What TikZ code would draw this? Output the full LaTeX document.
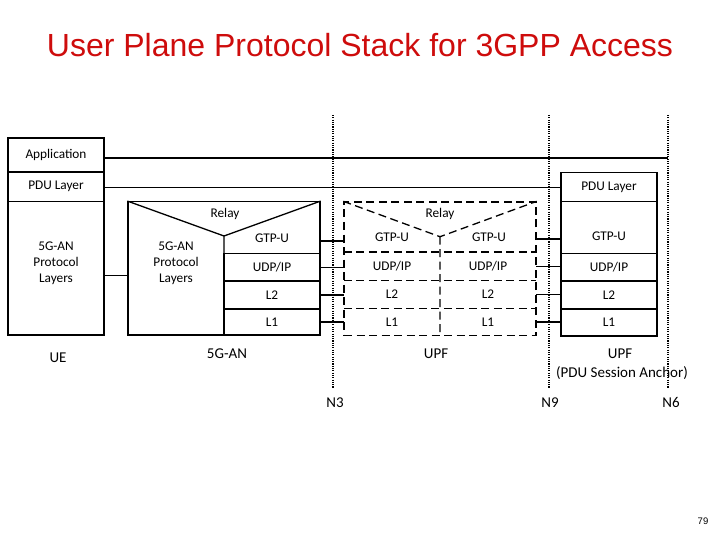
\documentclass[tikz,border=0pt]{standalone}
\usepackage{fontspec}
\setmainfont{Carlito}[Numbers=Lining]
\newfontfamily\slidefont{Liberation Sans}
\usepackage{tikz}
\usetikzlibrary{positioning}
\definecolor{TitleRed}{RGB}{206,12,12}
\newcommand{\dgfont}{\fontsize{13.3}{16}\selectfont}
\newcommand{\tagfont}{\fontsize{15}{18}\selectfont}

\begin{document}
\begin{tikzpicture}[x=1pt,y=-1pt,
    every node/.style={inner sep=0pt,align=center,font=\dgfont},
    cell/.style={draw,line width=1.3pt,minimum width=96pt},
    tag/.style={font=\tagfont,anchor=base},
    link/.style={line width=1.1pt},
    dashbox/.style={line width=1.3pt,dash pattern=on 8pt off 4.5pt},
    iface/.style={line width=1.1pt,dash pattern=on 1.1pt off 1.2pt}]
  \useasboundingbox (0,0) rectangle (720,540);
  \node[anchor=base,font=\slidefont\fontsize{32}{36}\selectfont,text=TitleRed] (title) at (360,57) {User Plane Protocol Stack for 3GPP Access};

  % UE
  \node[cell,minimum height=34pt] (ueApp) at (56,155) {Application};
  \node[cell,minimum height=29.5pt] (uePdu) at (56,186.75) {PDU Layer};
  \node[cell,minimum height=133.5pt] (ueAn) at (56,268.25) {};
  \node (ueAnT) at (56,263) {5G-AN\\Protocol\\Layers};
  \node[tag] (ueLab) at (58,362) {UE};

  % 5G-AN
  \node[cell,minimum width=192pt,minimum height=133.4pt] (an) at (224,268.4) {};
  \coordinate (anV) at (224,236);
  \draw[line width=1.3pt] (an.north west) -- (anV) -- (an.north east) (anV) -- (an.south);
  \node (anRelay) at (225,213.5) {Relay};
  \node (anProto) at (176,263) {5G-AN\\Protocol\\Layers};
  \node (anGtp) at (272,238) {GTP-U};
  \node[cell,minimum height=27.7pt] (anUdp) at (272,267.15) {UDP/IP};
  \node[cell,minimum height=28pt] (anL2) at (272,295) {L2};
  \node[cell,minimum height=26pt] (anL1) at (272,322) {L1};
  \node[tag] (anLab) at (227,358) {5G-AN};

  % UPF (relay)
  \node[draw,dashbox,minimum width=192pt,minimum height=133.5pt] (upf) at (440,268.75) {};
  \coordinate (upfV) at (440,236.7);
  \draw[dashbox] (upf.north west) -- (upfV) -- (upf.north east) (upfV) -- (upf.south);
  \node (upfRelay) at (440,213.5) {Relay};
  \node (upfLGtp) at (392,237) {GTP-U};
  \node (upfRGtp) at (489,237) {GTP-U};
  \node[minimum width=96pt,minimum height=28.4pt] (upfLUdp) at (392,266.5) {UDP/IP};
  \node[minimum width=96pt,minimum height=27.6pt] (upfLL2) at (392,294.5) {L2};
  \node[minimum width=96pt,minimum height=27.2pt] (upfLL1) at (392,322) {L1};
  \node[minimum width=96pt,minimum height=28.4pt] (upfRUdp) at (488,266.5) {UDP/IP};
  \node[minimum width=96pt,minimum height=27.6pt] (upfRL2) at (488,294.5) {L2};
  \node[minimum width=96pt,minimum height=27.2pt] (upfRL1) at (488,322) {L1};
  \draw[dashbox] (upfLUdp.north west) -- (upfRUdp.north east) (upfLL2.north west) -- (upfRL2.north east) (upfLL1.north west) -- (upfRL1.north east);
  \node[tag] (upfLab) at (436,358) {UPF};

  % UPF (PDU session anchor)
  \node[cell,minimum height=29pt] (ancPdu) at (609,187.2) {PDU Layer};
  \node[cell,minimum height=51.6pt] (ancGtp) at (609,227.5) {};
  \node (ancGtpT) at (609,236.5) {GTP-U};
  \node[cell,minimum height=27.7pt] (ancUdp) at (609,267.15) {UDP/IP};
  \node[cell,minimum height=28pt] (ancL2) at (609,295) {L2};
  \node[cell,minimum height=27pt] (ancL1) at (609,322.5) {L1};
  \node[tag] (ancLab) at (620,358) {UPF};
  \node[tag] (ancSub) at (622,377) {(PDU Session Anchor)};

  % reference points
  \foreach \n/\x in {n3/333,n9/549,n6/668}{
    \coordinate (\n-top) at (\x,115);
    \coordinate (\n-bot) at (\x,388);
    \draw[iface] (\n-top) -- (\n-bot);}
  \node[tag] (n3Lab) at (335,407) {N3};
  \node[tag] (n9Lab) at (550,407) {N9};
  \node[tag] (n6Lab) at (671,407) {N6};

  % peer links
  \coordinate (appY) at ([yshift=-3pt]ueApp.east);
  \coordinate (pduY) at ([yshift=-0.75pt]uePdu.east);
  \coordinate (anY) at ([yshift=-7pt]ueAn.east);
  \coordinate (gtpY) at ([yshift=-3pt]anGtp.center);
  \coordinate (gtpZ) at ([yshift=-2pt]upfRGtp.center);
  \draw[link] (appY) -- (appY -| n6-top);
  \draw[link] (pduY) -- (pduY -| ancPdu.west);
  \draw[link] (anY) -- (anY -| an.west);
  \draw[link] (gtpY -| an.east) -- (gtpY -| upf.west);
  \draw[link] (gtpZ -| upf.east) -- (gtpZ -| ancGtp.west);
  \foreach \a/\b in {anUdp/upfLUdp,anL2/upfLL2,anL1/upfLL1,upfRUdp/ancUdp,upfRL2/ancL2,upfRL1/ancL1}
    {\draw[link] (\a.east) -- (\a.east -| \b.west);}

  \node[font=\slidefont\fontsize{9.5}{11}\selectfont] (pgNum) at (703,521) {79};
\end{tikzpicture}
\end{document}
